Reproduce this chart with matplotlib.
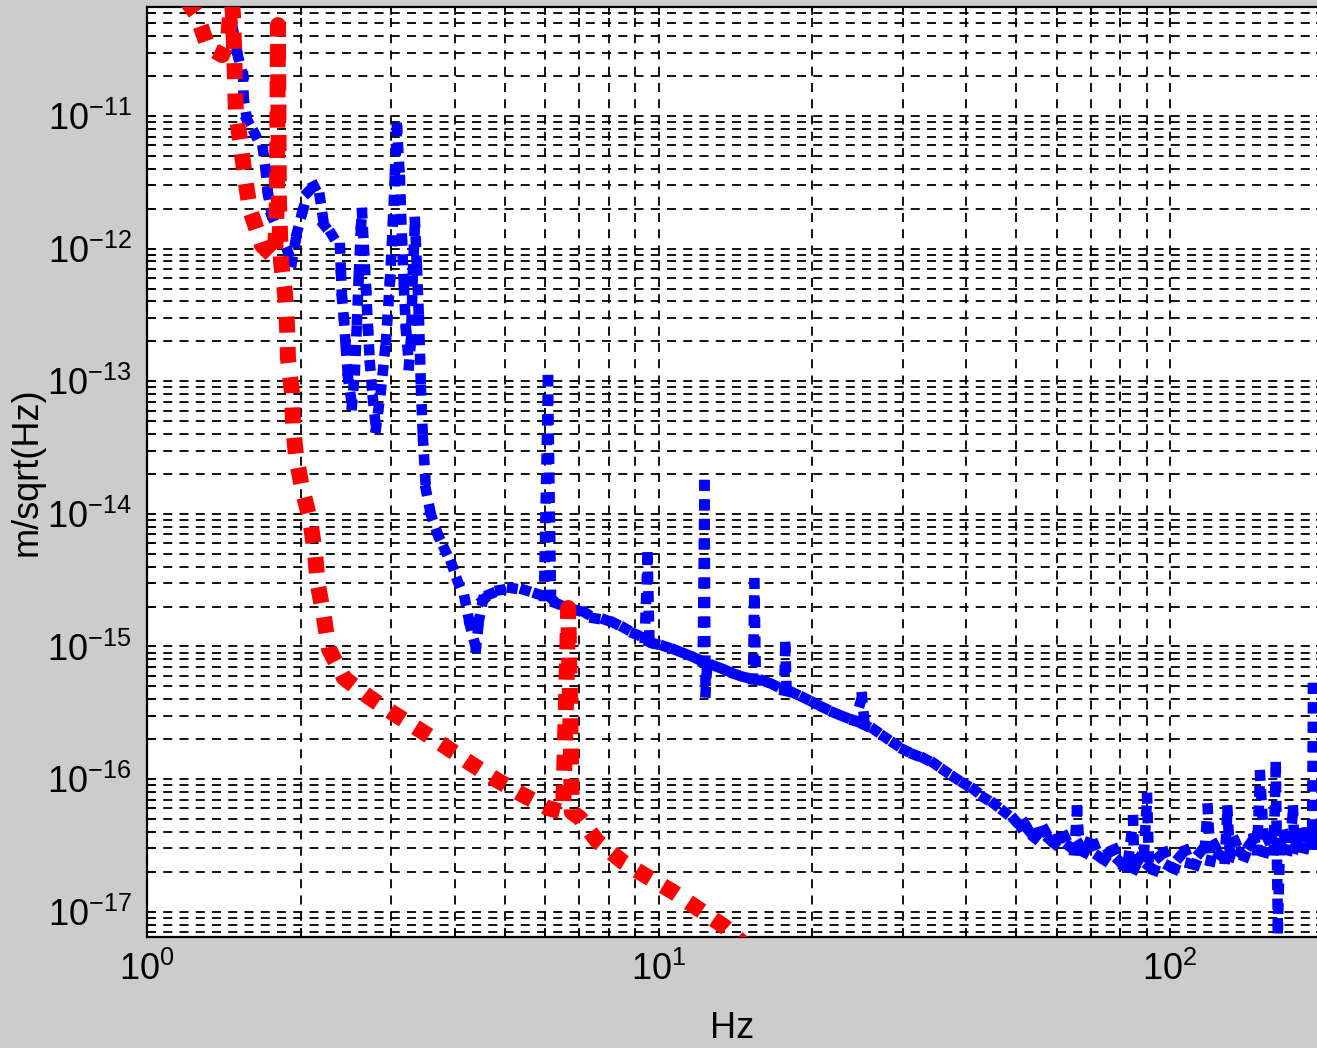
import numpy as np
import matplotlib
matplotlib.use('Agg')
import matplotlib.pyplot as plt
from matplotlib import font_manager, ticker
from matplotlib.collections import LineCollection

# measured displacement noise (blue), Hz and m/sqrt(Hz)
blue_f = [1.446, 1.473, 1.506, 1.541, 1.545, 1.569, 1.626, 1.686, 1.708, 1.724,
          1.755, 1.820, 1.886, 1.920, 1.965, 2.018, 2.064, 2.121, 2.179, 2.218,
          2.300, 2.384, 2.395, 2.406, 2.427, 2.449, 2.472, 2.516, 2.550, 2.574,
          2.597, 2.621, 2.633, 2.657, 2.681, 2.705, 2.729, 2.766, 2.803, 2.867,
          2.933, 2.986, 3.027, 3.054, 3.082, 3.123, 3.151, 3.180, 3.209, 3.252,
          3.282, 3.311, 3.341, 3.372, 3.402, 3.433, 3.464, 3.511, 3.591, 3.706,
          3.824, 3.947, 4.055, 4.185, 4.280, 4.397, 4.457, 4.538, 4.684, 4.899,
          5.171, 5.483, 5.813, 5.972, 6.081, 6.164,
          6.3, 6.6, 6.9, 7.2, 7.5, 7.9, 8.2, 8.6, 9.0, 9.4,
          9.52, 9.6, 9.8, 10.3, 10.8, 11.3, 11.8, 12.2, 12.3, 12.36,
          12.45, 12.9, 13.5, 14.1, 14.7, 15.3, 15.4, 15.5, 16.1, 16.8,
          17.6, 17.7, 17.8, 18.4, 19.3, 20.2, 21.1, 22.1, 23.1, 24.2,
          25.0, 25.3, 26.5, 27.7, 29.0, 30.3, 31.7, 33.2, 34.7, 36.3,
          38.0, 39.7, 41.5, 43.4, 45.4, 47.5, 49.7,
          51.0, 52.0, 53.2, 54.4, 55.6, 56.9, 58.2, 59.5, 60.8, 62.2,
          63.6, 65.0, 65.8, 66.5, 68.0, 69.5, 71.1, 72.7, 74.4, 76.1,
          77.8, 79.6, 81.4, 83.0, 84.7, 85.1, 87.0, 89.0, 90.2, 91.0,
          93.1, 95.2, 97.4, 99.7, 102, 104.5, 107, 109.5, 112, 114.5,
          117, 118.5, 120, 122, 125, 128, 129.5, 131, 134, 137,
          140, 143, 146, 148, 150, 153, 155.5, 158, 159.5, 161,
          162.5, 164, 167, 170, 172, 174, 175, 177.5, 180, 183,
          185, 187, 189.5, 190.4, 191.5, 193, 195, 197.5, 200]
blue_asd = [7.5e-11, 4.46e-11, 2.83e-11, 2.0e-11, 1.37e-11, 9.33e-12, 7.31e-12, 5.54e-12, 3.79e-12, 2.58e-12,
            1.76e-12, 1.25e-12, 9.42e-13, 7.92e-13, 1.33e-12, 1.96e-12, 2.67e-12, 2.96e-12, 2.41e-12, 1.51e-12,
            1.27e-12, 1.01e-12, 6.32e-13, 4.24e-13, 2.9e-13, 1.72e-13, 1.06e-13, 6.62e-14, 1.21e-13, 2.9e-13,
            6.9e-13, 1.51e-12, 1.86e-12, 9.75e-13, 4.88e-13, 2.43e-13, 1.32e-13, 7.22e-14, 4.44e-14, 8.6e-14,
            2.05e-13, 5.8e-13, 1.64e-12, 3.92e-12, 8.12e-12, 3.29e-12, 1.16e-12, 4.9e-13, 2.43e-13, 1.32e-13,
            2.05e-13, 6.9e-13, 1.59e-12, 6.9e-13, 2.9e-13, 8.6e-14, 3.6e-14, 1.51e-14, 9.8e-15, 6.92e-15,
            5.33e-15, 4.11e-15, 3.06e-15, 2.24e-15, 1.45e-15, 9.73e-16, 1.58e-15, 2.24e-15, 2.48e-15, 2.66e-15,
            2.75e-15, 2.66e-15, 2.48e-15, 2.4e-15, 1.02e-13, 2.32e-15,
            2.12e-15, 1.98e-15, 1.88e-15, 1.79e-15, 1.63e-15, 1.58e-15, 1.5e-15, 1.37e-15, 1.24e-15, 1.16e-15,
            4.7e-15, 1.08e-15, 1.05e-15, 1.0e-15, 9.4e-16, 8.77e-16, 8.18e-16, 7.7e-16, 1.65e-14, 4.5e-16,
            7.4e-16, 7.11e-16, 6.64e-16, 6.19e-16, 5.88e-16, 5.67e-16, 3.0e-15, 5.6e-16, 5.48e-16, 5.12e-16,
            4.69e-16, 9.9e-16, 4.6e-16, 4.45e-16, 4.08e-16, 3.74e-16, 3.43e-16, 3.15e-16, 2.94e-16, 2.74e-16,
            4.15e-16, 2.55e-16, 2.34e-16, 2.07e-16, 1.84e-16, 1.65e-16, 1.52e-16, 1.42e-16, 1.3e-16, 1.15e-16,
            1.02e-16, 9.17e-17, 8.26e-17, 7.19e-17, 6.47e-17, 5.63e-17, 4.91e-17,
            4.4e-17, 4.6e-17, 4.0e-17, 3.6e-17, 4.0e-17, 4.1e-17, 3.5e-17, 3.25e-17, 3.6e-17, 3.7e-17,
            3.1e-17, 2.9e-17, 5.8e-17, 3.2e-17, 2.8e-17, 3.3e-17, 3.2e-17, 2.6e-17, 2.45e-17, 2.8e-17,
            2.95e-17, 2.4e-17, 2.2e-17, 2.6e-17, 4.9e-17, 2.1e-17, 2.5e-17, 2.9e-17, 7.2e-17, 2.2e-17,
            2.05e-17, 2.6e-17, 2.8e-17, 2.2e-17, 2.1e-17, 2.6e-17, 2.9e-17, 2.3e-17, 2.25e-17, 2.8e-17,
            3.1e-17, 6.0e-17, 2.4e-17, 3.2e-17, 2.7e-17, 2.5e-17, 5.8e-17, 2.6e-17, 3.4e-17, 2.8e-17,
            2.6e-17, 3.2e-17, 3.6e-17, 2.9e-17, 1.07e-16, 2.8e-17, 3.5e-17, 3.6e-17, 2.9e-17, 1.23e-16,
            7.5e-18, 3.2e-17, 3.8e-17, 2.9e-17, 3.6e-17, 5.8e-17, 3.0e-17, 3.5e-17, 3.9e-17, 3.0e-17,
            3.6e-17, 4.0e-17, 3.2e-17, 4.85e-16, 3.5e-17, 4.0e-17, 3.3e-17, 3.9e-17, 3.6e-17]

# modelled noise (red)
red_f = [1.192, 1.252, 1.316, 1.402, 1.440, 1.453, 1.466, 1.473, 1.479, 1.486,
         1.492, 1.526, 1.555, 1.590, 1.678, 1.779, 1.795, 1.803, 1.811, 1.828,
         1.861, 1.878, 1.886, 1.920, 1.930, 1.955, 2.009, 2.084, 2.130, 2.159,
         2.217, 2.268, 2.428, 2.716, 3.024, 3.417, 3.824, 4.280, 4.834, 5.435,
         6.081, 6.508, 6.597, 6.66, 6.714, 6.77, 7.023, 7.58, 8.522, 9.54,
         10.68, 12.05, 13.49, 14.76]
red_asd = [7.5e-11, 5.78e-11, 3.31e-11, 2.88e-11, 3.74e-11, 5.78e-11, 7.1e-11, 5.78e-11, 3.43e-11, 1.87e-11,
           1.07e-11, 6.04e-12, 3.4e-12, 1.96e-12, 1.06e-12, 8.49e-13, 2.33e-12, 4.85e-11, 2.33e-12, 7.9e-13,
           4.62e-13, 2.65e-13, 1.5e-13, 8.3e-14, 4.67e-14, 2.77e-14, 1.57e-14, 8.98e-15, 5.06e-15, 2.9e-15,
           1.67e-15, 9.55e-16, 5.78e-16, 4.15e-16, 3.15e-16, 2.34e-16, 1.77e-16, 1.32e-16, 9.8e-17, 7.57e-17,
           6.04e-17, 5.63e-17, 3.95e-16, 1.95e-15, 3.95e-16, 5.63e-17, 5.08e-17, 3.41e-17, 2.37e-17, 1.82e-17,
           1.41e-17, 1.03e-17, 7.66e-18, 5.6e-18]

x_range = (1, 200)
y_range = (6.44e-18, 6.64e-11)
x_major = [1, 10, 100]
y_major = [1e-17, 1e-16, 1e-15, 1e-14, 1e-13, 1e-12, 1e-11]

names = {f.name for f in font_manager.fontManager.ttflist}
family = 'Liberation Sans' if 'Liberation Sans' in names else 'DejaVu Sans'
plt.rcParams['font.family'] = family
plt.rcParams['mathtext.fontset'] = 'custom'
plt.rcParams['mathtext.rm'] = family

fig = plt.figure(figsize=(13.17, 10.48), dpi=100, facecolor='#cccccc')
ax = fig.add_axes([147 / 1317, 111 / 1048, 1177 / 1317, 930 / 1048])
ax.set_facecolor('white')
ax.set_xscale('log')
ax.set_yscale('log')
ax.set_xlim(*x_range)
ax.set_ylim(*y_range)

# every segment restarts its dot pattern with a square dot at its first vertex,
# so densely sampled stretches come out solid
pts = np.column_stack([blue_f, blue_asd])
segs = np.stack([pts[:-1], pts[1:]], axis=1)
lc = LineCollection(segs, colors='#0000ff', linewidths=7.6,
                    linestyles=[(0, (0.05, 1.8))], capstyle='projecting', zorder=3)
ax.add_collection(lc)

ax.plot(red_f, red_asd, color='#ff0000', lw=11.5, linestyle=(0, (1, 0.9)),
        dash_capstyle='butt', zorder=4)

ax.xaxis.set_major_locator(ticker.FixedLocator(x_major))
ax.yaxis.set_major_locator(ticker.FixedLocator(y_major))
ax.xaxis.set_minor_locator(ticker.LogLocator(base=10, subs=np.arange(2, 10), numticks=100))
ax.yaxis.set_minor_locator(ticker.LogLocator(base=10, subs=np.arange(2, 10), numticks=100))
ax.xaxis.set_major_formatter(ticker.LogFormatterSciNotation())
ax.yaxis.set_major_formatter(ticker.LogFormatterSciNotation())
ax.xaxis.set_minor_formatter(ticker.NullFormatter())
ax.yaxis.set_minor_formatter(ticker.NullFormatter())

ax.grid(True, which='both', color='black', linestyle=(0, (5, 4)), linewidth=1.3)
ax.set_axisbelow(True)
ax.tick_params(which='both', direction='in', top=True, right=True,
               length=6, width=1.2, labelsize=26, pad=11)
for s in ax.spines.values():
    s.set_linewidth(1.6)

ax.set_xlabel('Hz', fontsize=26, va='center')
ax.xaxis.set_label_coords((732 - 147) / 1177, (937 - 1028) / 930)
ax.set_ylabel('m/sqrt(Hz)', fontsize=26, va='center')
ax.yaxis.set_label_coords((27 - 147) / 1177, 0.5)

fig.savefig('out.png', dpi=100, facecolor=fig.get_facecolor())
